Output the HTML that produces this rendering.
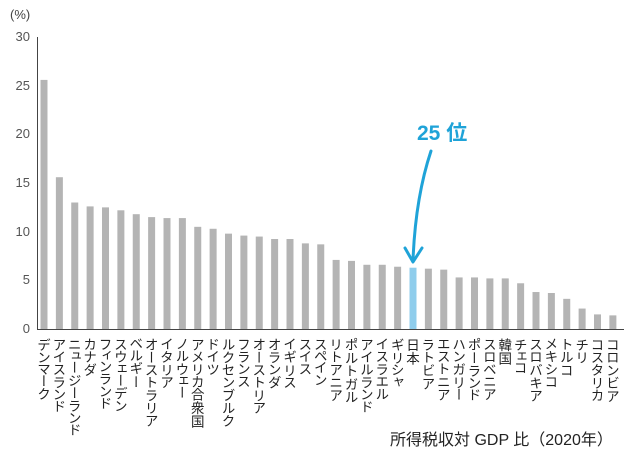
<!DOCTYPE html>
<html><head><meta charset="utf-8">
<style>
body{margin:0;width:639px;height:457px;background:#fff;position:relative;overflow:hidden;font-family:"Liberation Sans","Noto Sans CJK JP",sans-serif;}
.lab{position:absolute;top:338px;writing-mode:vertical-rl;text-orientation:upright;font-size:13.5px;line-height:14px;color:#222;font-family:"Noto Sans CJK JP",sans-serif;width:14px;font-feature-settings:"vpal" 1;}
.yt{position:absolute;left:0;width:30px;text-align:right;font-size:13px;color:#555;}
</style></head><body>
<svg width="639" height="457" style="position:absolute;left:0;top:0">
<g id="bars"></g>
<line x1="37.5" y1="37" x2="37.5" y2="329.5" stroke="#444" stroke-width="1"/>
<line x1="37" y1="329.5" x2="624" y2="329.5" stroke="#444" stroke-width="1"/>
<text x="417" y="140" font-size="21" font-weight="bold" fill="#1fa3d8" font-family="Liberation Sans, Noto Sans CJK JP, sans-serif">25 位</text>
<path d="M431 151 C423 175 415 210 413 260" stroke="#1fa3d8" stroke-width="3" fill="none" stroke-linecap="round"/>
<path d="M405 248 L413 262 L422 248" stroke="#1fa3d8" stroke-width="3" fill="none" stroke-linecap="round" stroke-linejoin="round"/>
</svg>
<div style="position:absolute;left:10px;top:7px;font-size:13px;color:#444">(%)</div>
<div class="yt" style="top:29px">30</div>
<div class="yt" style="top:78px">25</div>
<div class="yt" style="top:126px">20</div>
<div class="yt" style="top:175px">15</div>
<div class="yt" style="top:224px">10</div>
<div class="yt" style="top:272px">5</div>
<div class="yt" style="top:321px">0</div>
<div id="labs"></div>
<div style="position:absolute;left:390px;top:426px;font-size:16px;color:#222;font-family:'Liberation Sans','Noto Sans CJK JP',sans-serif">所得税収対 GDP 比（2020年）</div>
<script>
var n=["デンマーク","アイスランド","ニュージーランド","カナダ","フィンランド","スウェーデン","ベルギー","オーストラリア","イタリア","ノルウェー","アメリカ合衆国","ドイツ","ルクセンブルク","フランス","オーストリア","オランダ","イギリス","スイス","スペイン","リトアニア","ポルトガル","アイルランド","イスラエル","ギリシャ","日本","ラトビア","エストニア","ハンガリー","ポーランド","スロベニア","韓国","チェコ","スロバキア","メキシコ","トルコ","チリ","コスタリカ","コロンビア"];
var v=[25.6,15.6,13.0,12.6,12.5,12.2,11.8,11.5,11.4,11.4,10.5,10.3,9.8,9.6,9.5,9.25,9.25,8.8,8.7,7.1,7.0,6.6,6.6,6.4,6.3,6.2,6.1,5.3,5.3,5.2,5.2,4.7,3.8,3.7,3.1,2.1,1.5,1.4];
var g=document.getElementById("bars"),L=document.getElementById("labs"),s="";
for(var i=0;i<38;i++){var cx=44+i*15.375,h=v[i]*9.73;
s+='<rect x="'+(cx-3.5)+'" y="'+(329-h)+'" width="7" height="'+h+'" fill="'+(i==24?'#8fcdec':'#b4b4b4')+'"/>';
var d=document.createElement("div");d.className="lab";d.style.left=(cx-7)+"px";d.textContent=n[i];L.appendChild(d);}
g.innerHTML=s;
</script>
</body></html>
